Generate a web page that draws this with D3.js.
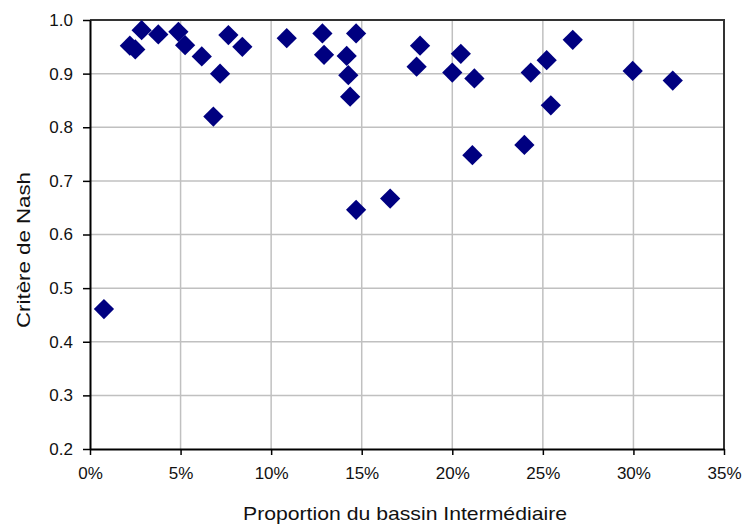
<!DOCTYPE html>
<html>
<head>
<meta charset="utf-8">
<script src="https://cdn.jsdelivr.net/npm/d3@7"></script>
<style>
  body { margin: 0; background: #fff; }
  svg text { font-family: "Liberation Sans", Arial, sans-serif; fill: #111; }
</style>
</head>
<body>
<div id="chart"></div>
<script>
// share of the intermediate basin (fraction) and Nash criterion, one per catchment
var proportion = [0.0077, 0.022, 0.025, 0.0285, 0.0377, 0.0488, 0.0525, 0.0617, 0.0718, 0.0681,
                  0.0764, 0.0841, 0.1086, 0.1283, 0.1292, 0.1469, 0.1417, 0.1426, 0.1436, 0.1469,
                  0.1657, 0.1822, 0.1803, 0.2047, 0.2000, 0.2122, 0.2111, 0.2398, 0.2433, 0.2521,
                  0.2544, 0.2665, 0.2996, 0.3217];
var nash = [0.461, 0.952, 0.945, 0.981, 0.973, 0.978, 0.953, 0.932, 0.900, 0.820,
            0.972, 0.950, 0.966, 0.975, 0.935, 0.975, 0.933, 0.897, 0.857, 0.646,
            0.667, 0.952, 0.913, 0.937, 0.902, 0.891, 0.748, 0.767, 0.902, 0.925,
            0.841, 0.963, 0.905, 0.887];

var xTicks = [0, 0.05, 0.10, 0.15, 0.20, 0.25, 0.30, 0.35];
var yTicks = [0.2, 0.3, 0.4, 0.5, 0.6, 0.7, 0.8, 0.9, 1.0];

var W = 746, H = 524;
var margin = {top: 20, right: 22, bottom: 75, left: 90};
var width = W - margin.left - margin.right,
    height = H - margin.top - margin.bottom;

var svg = d3.select("#chart")
  .append("svg")
    .attr("width", W)
    .attr("height", H)
  .append("g")
    .attr("transform", "translate(" + margin.left + "," + margin.top + ")");

var x = d3.scaleLinear().domain([0, 0.35]).range([0, width]);
var y = d3.scaleLinear().domain([0.2, 1.0]).range([height, 0]);

// gridlines
svg.selectAll(".vgrid")
  .data(xTicks.slice(1, -1))
  .enter().append("line")
    .attr("x1", function(d) { return x(d); })
    .attr("x2", function(d) { return x(d); })
    .attr("y1", 0).attr("y2", height)
    .attr("stroke", "#c0c0c0").attr("stroke-width", 1.5);

svg.selectAll(".hgrid")
  .data(yTicks.slice(1, -1))
  .enter().append("line")
    .attr("x1", 0).attr("x2", width)
    .attr("y1", function(d) { return y(d); })
    .attr("y2", function(d) { return y(d); })
    .attr("stroke", "#c0c0c0").attr("stroke-width", 1.5);

// plot area border (top / right)
svg.append("path")
  .attr("d", "M0,0H" + width + "V" + height)
  .attr("fill", "none")
  .attr("stroke", "#333")
  .attr("stroke-width", 2);

// axes
var xAxis = svg.append("g")
  .attr("transform", "translate(0," + height + ")")
  .call(d3.axisBottom(x).tickValues(xTicks).tickSize(6).tickSizeOuter(0)
        .tickPadding(15).tickFormat(d3.format(".0%")));

var yAxis = svg.append("g")
  .call(d3.axisLeft(y).tickValues(yTicks).tickSize(7).tickSizeOuter(0)
        .tickPadding(10).tickFormat(d3.format(".1f")));

[xAxis, yAxis].forEach(function(a) {
  a.select(".domain").attr("stroke", "#000").attr("stroke-width", 2);
  a.selectAll(".tick line").attr("stroke", "#000").attr("stroke-width", 1.5);
  a.selectAll("text").style("font-size", "17px").attr("fill", "#111");
});
xAxis.selectAll("text").attr("dy", "0.55em");

// points
svg.selectAll(".pt")
  .data(proportion)
  .enter().append("path")
    .attr("d", d3.symbol().type(d3.symbolSquare).size(205))
    .attr("transform", function(d, i) {
      return "translate(" + x(d) + "," + y(nash[i]) + ") rotate(45)";
    })
    .attr("fill", "#000080");

// axis titles
svg.append("text")
  .attr("x", width / 2 - 2)
  .attr("y", 500)
  .attr("text-anchor", "middle")
  .attr("textLength", 324)
  .attr("lengthAdjust", "spacingAndGlyphs")
  .style("font-size", "19px")
  .text("Proportion du bassin Intermédiaire");

svg.append("text")
  .attr("transform", "translate(" + (-60) + "," + 230 + ") rotate(-90)")
  .attr("text-anchor", "middle")
  .attr("textLength", 156)
  .attr("lengthAdjust", "spacingAndGlyphs")
  .style("font-size", "19px")
  .text("Critère de Nash");
</script>
</body>
</html>
